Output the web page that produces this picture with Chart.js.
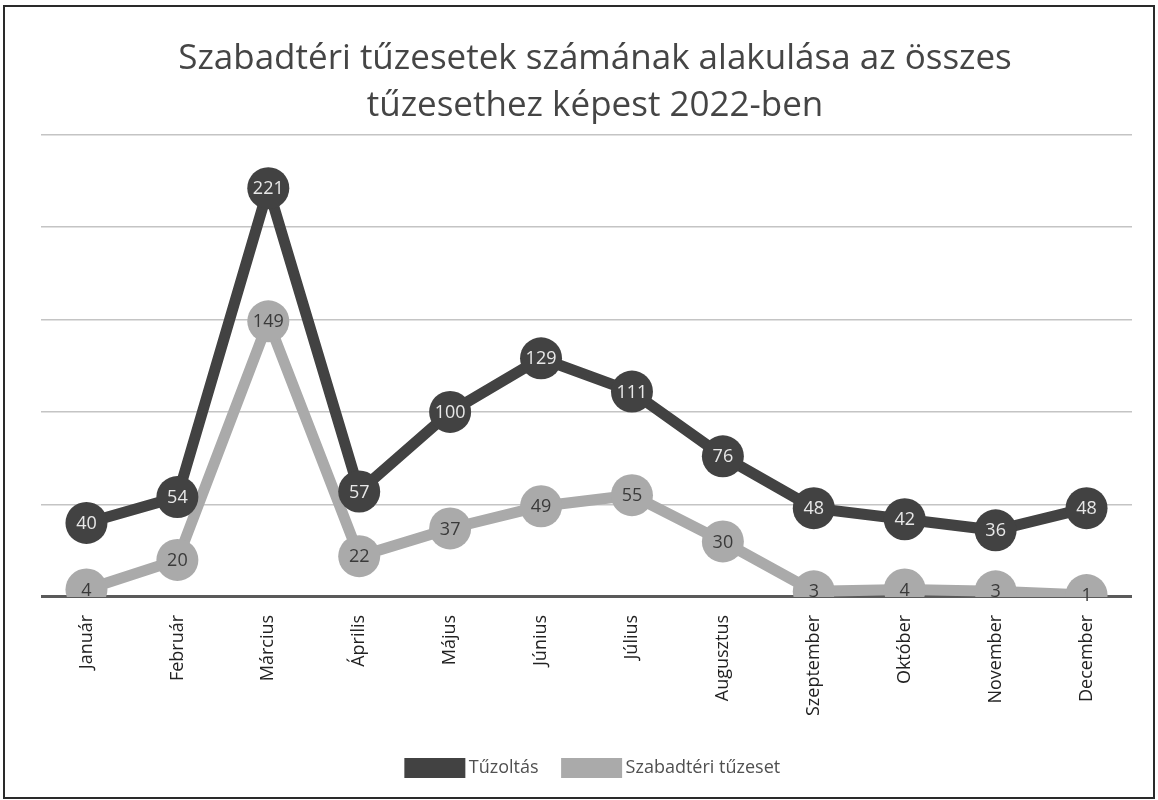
<!DOCTYPE html>
<html>
<head>
<meta charset="utf-8">
<script src="https://cdn.jsdelivr.net/npm/chart.js@4.4.1/dist/chart.umd.min.js"></script>
<style>
  html, body { margin: 0; padding: 0; background: #fff; }
  #frame {
    position: absolute; left: 3px; top: 5px;
    width: 1148px; height: 790px;
    border: 2px solid #2a2a2a; background: #fff;
  }
  #wrap { position: absolute; left: 0; top: 0; width: 1148px; height: 790px; }
</style>
</head>
<body>
<div id="frame"><div id="wrap"><canvas id="c"></canvas></div></div>
<script>
/* Szabadtéri tűzesetek 2022 — két vonalsor, feliratozott pontokkal */
const months = ['Január', 'Február', 'Március', 'Április', 'Május', 'Június',
                'Július', 'Augusztus', 'Szeptember', 'Október', 'November', 'December'];
const tuzoltas = [40, 54, 221, 57, 100, 129, 111, 76, 48, 42, 36, 48];
const szabadteri = [4, 20, 149, 22, 37, 49, 55, 30, 3, 4, 3, 1];
const titleLines = ['Szabadtéri tűzesetek számának alakulása az összes', 'tűzesethez képest 2022-ben'];

const DARK = '#424242';
const LIGHT = '#aaaaaa';
const FONT = '"Open Sans", "Noto Sans", sans-serif';

/* számok a körök közepére */
const pointLabels = {
  id: 'pointLabels',
  afterDatasetsDraw(chart) {
    const ctx = chart.ctx;
    ctx.save();
    ctx.font = '18px ' + FONT;
    ctx.textAlign = 'center';
    ctx.textBaseline = 'middle';
    chart.data.datasets.forEach((ds, i) => {
      const meta = chart.getDatasetMeta(i);
      ctx.fillStyle = ds.labelColor;
      meta.data.forEach((pt, j) => {
        ctx.fillText(String(ds.data[j]), pt.x, pt.y + 1);
      });
    });
    ctx.restore();
  }
};

new Chart(document.getElementById('c'), {
  type: 'line',
  data: {
    labels: months,
    datasets: [
      {
        label: 'Tűzoltás',
        data: tuzoltas,
        borderColor: DARK, backgroundColor: DARK,
        borderWidth: 11, pointRadius: 21, pointBorderWidth: 0,
        pointBackgroundColor: DARK, labelColor: '#e8e8e8',
        tension: 0, order: 1,
      },
      {
        label: 'Szabadtéri tűzeset',
        data: szabadteri,
        borderColor: LIGHT, backgroundColor: LIGHT,
        borderWidth: 11, pointRadius: 21, pointBorderWidth: 0,
        pointBackgroundColor: LIGHT, labelColor: '#3a3a3a',
        tension: 0, order: 2,
      },
    ],
  },
  options: {
    responsive: true, maintainAspectRatio: false,
    animation: false,
    layout: { padding: { left: 36, right: 4, top: 0, bottom: 10 } },
    plugins: {
      title: {
        display: true, text: titleLines, color: '#454545',
        font: { family: FONT, size: 35, weight: 'normal', lineHeight: 1.35 },
        padding: { top: 28, bottom: 5 },
      },
      legend: {
        position: 'bottom',
        labels: {
          color: '#505050', boxWidth: 50, boxHeight: 9,
          font: { family: FONT, size: 18 }, padding: 28,
        },
      },
      tooltip: { enabled: false },
    },
    scales: {
      x: {
        offset: true,
        grid: { display: false },
        border: { display: false },
        ticks: {
          color: '#222', font: { family: FONT, size: 18 },
          minRotation: 90, maxRotation: 90, padding: 10,
        },
        afterFit(scale) { scale.height += 5; },
      },
      y: {
        min: 0, max: 250,
        border: { display: false },
        ticks: { display: false, stepSize: 50 },
        grid: {
          drawTicks: false,
          color: ctx => ctx.tick.value === 0 ? '#5a5a5a' : '#c4c4c4',
          lineWidth: ctx => ctx.tick.value === 0 ? 3 : 1.5,
        },
      },
    },
  },
  plugins: [pointLabels],
});
</script>
</body>
</html>
